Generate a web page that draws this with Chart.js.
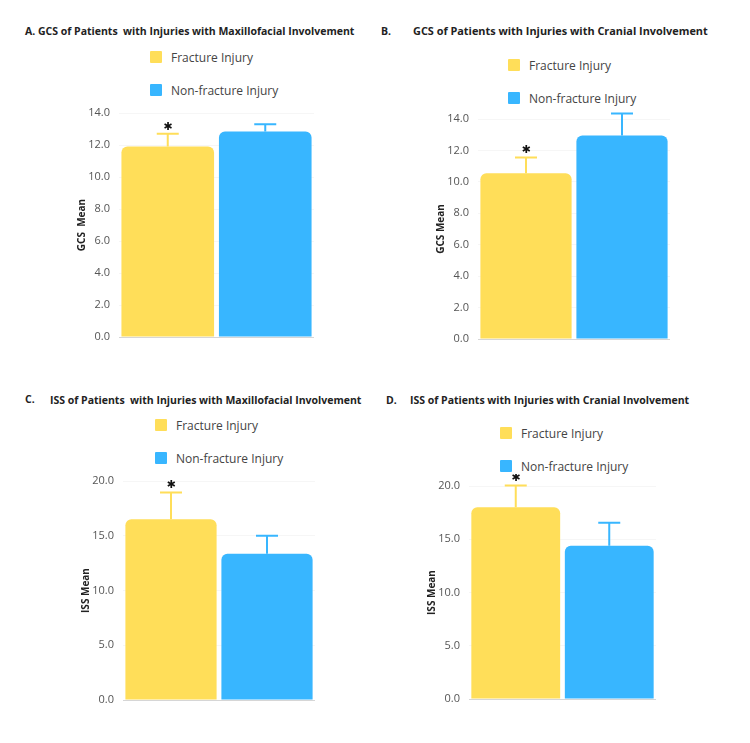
<!DOCTYPE html>
<html>
<head>
<meta charset="utf-8">
<script src="https://cdn.jsdelivr.net/npm/chart.js@4.4.1/dist/chart.umd.min.js"></script>
<style>
    body { margin: 0; background: #fff; }
    #page { position: relative; width: 750px; height: 743px; overflow: hidden; font-family: 'Open Sans', sans-serif; }
    .title { position: absolute; font-weight: 700; font-size: 10.5px; color: #222; white-space: pre; line-height: 14px; }
    .legend { position: absolute; font-size: 12px; color: #444; }
    .legend-item { display: flex; align-items: center; height: 14px; }
    .legend-box { width: 12px; height: 12px; border-radius: 1px; margin-right: 9px; }
    .panel { position: absolute; }
</style>
</head>
<body>
<div id="page">
    <div class="title" style="left:25px; top:24px;">A. GCS of Patients  with Injuries with Maxillofacial Involvement</div>
    <div class="title" style="left:381px; top:24px;">B.</div>
    <div class="title" style="left:413px; top:24px; font-size:10.9px;">GCS of Patients with Injuries with Cranial Involvement</div>
    <div class="title" style="left:25px; top:392px;">C.</div>
    <div class="title" style="left:50px; top:393px;">ISS of Patients  with Injuries with Maxillofacial Involvement</div>
    <div class="title" style="left:386px; top:393px;">D.</div>
    <div class="title" style="left:410px; top:393px;">ISS of Patients with Injuries with Cranial Involvement</div>

    <div id="legend-a" class="legend" style="left:150px; top:50px;"></div>
    <div id="legend-b" class="legend" style="left:508px; top:58px;"></div>
    <div id="legend-c" class="legend" style="left:155px; top:418px;"></div>
    <div id="legend-d" class="legend" style="left:500px; top:426px;"></div>

    <div class="panel" style="left:72px; top:101px; width:246px; height:244px;"><canvas id="chart-a"></canvas></div>
    <div class="panel" style="left:431px; top:107px; width:243px; height:240px;"><canvas id="chart-b"></canvas></div>
    <div class="panel" style="left:76px; top:469px; width:243px; height:239px;"><canvas id="chart-c"></canvas></div>
    <div class="panel" style="left:422px; top:474px; width:238px; height:233px;"><canvas id="chart-d"></canvas></div>
</div>
<script>
var groups = ['Fracture Injury', 'Non-fracture Injury'];
var colors = ['#FFDE59', '#38B6FF'];

// means and upper error (distance above the mean), fracture first
var gcsMaxMean = [11.9, 12.85];
var gcsMaxErr = [0.8, 0.45];
var gcsCranMean = [10.55, 12.95];
var gcsCranErr = [1.0, 1.4];
var issMaxMean = [16.5, 13.35];
var issMaxErr = [2.45, 1.65];
var issCranMean = [18.0, 14.4];
var issCranErr = [2.05, 2.15];

// significance marker per group
var significant = [true, false];

var gcsTicks = [0, 2, 4, 6, 8, 10, 12, 14];
var issTicks = [0, 5, 10, 15, 20];

var errorBarPlugin = {
    id: 'errorBars',
    afterDatasetsDraw: function (chart) {
        var ctx = chart.ctx;
        var yScale = chart.scales.y;
        chart.data.datasets.forEach(function (ds, i) {
            var bar = chart.getDatasetMeta(i).data[0];
            var top = yScale.getPixelForValue(ds.data[0] + ds.errors[0]);
            ctx.save();
            ctx.strokeStyle = ds.backgroundColor;
            ctx.lineWidth = 2;
            ctx.beginPath();
            ctx.moveTo(bar.x, bar.y);
            ctx.lineTo(bar.x, top);
            ctx.moveTo(bar.x - 11, top);
            ctx.lineTo(bar.x + 11, top);
            ctx.stroke();
            if (ds.marked) {
                ctx.fillStyle = '#111';
                ctx.font = 'bold 11px "DejaVu Sans"';
                ctx.textAlign = 'center';
                ctx.textBaseline = 'middle';
                ctx.fillText('\u2731', bar.x, top - 7);
            }
            ctx.restore();
        });
    }
};

function buildLegend(id, chart) {
    var $legend = document.getElementById(id);
    chart.data.datasets.forEach(function (ds, i) {
        var item = document.createElement('div');
        item.className = 'legend-item';
        item.style.marginBottom = i === 0 ? '19px' : '0';
        var box = document.createElement('span');
        box.className = 'legend-box';
        box.style.background = ds.backgroundColor;
        var text = document.createElement('span');
        text.textContent = ds.label;
        item.appendChild(box);
        item.appendChild(text);
        $legend.appendChild(item);
    });
}

function makePanel(canvasId, legendId, means, errors, ticks, axisTitle) {
    var datasets = groups.map(function (name, i) {
        return {
            label: name,
            data: [means[i]],
            errors: [errors[i]],
            marked: significant[i],
            backgroundColor: colors[i],
            borderRadius: 6,
            borderSkipped: 'start',
            categoryPercentage: 1,
            barPercentage: 0.95
        };
    });

    var chart = new Chart(document.getElementById(canvasId), {
        type: 'bar',
        data: { labels: [''], datasets: datasets },
        plugins: [errorBarPlugin],
        options: {
            responsive: true,
            maintainAspectRatio: false,
            animation: false,
            layout: { padding: { top: 12, right: 4, bottom: 8, left: 0 } },
            plugins: { legend: { display: false }, tooltip: { enabled: false } },
            scales: {
                x: { display: false },
                y: {
                    min: ticks[0],
                    max: ticks[ticks.length - 1],
                    afterBuildTicks: function (scale) {
                        scale.ticks = ticks.map(function (v) { return { value: v }; });
                    },
                    afterFit: function (scale) {
                        // fixed axis box so the plot areas line up with the reference
                        scale.width = 47;
                        scale.paddingTop = 0;
                        scale.paddingBottom = 0;
                    },
                    grid: {
                        color: function (c) { return c.tick && c.tick.value === 0 ? '#d6d6d6' : 'rgba(0,0,0,0.035)'; },
                        drawTicks: false
                    },
                    border: { display: false },
                    ticks: {
                        padding: 9,
                        color: '#555',
                        font: { family: 'Open Sans', size: 11 },
                        callback: function (v) { return Number(v).toFixed(1); }
                    },
                    title: {
                        display: true,
                        text: axisTitle,
                        color: '#222',
                        font: { family: 'Open Sans', size: 10, weight: 'bold' },
                        padding: { top: 4, bottom: 0 }
                    }
                }
            }
        }
    });

    buildLegend(legendId, chart);
    return chart;
}

makePanel('chart-a', 'legend-a', gcsMaxMean, gcsMaxErr, gcsTicks, 'GCS  Mean');
makePanel('chart-b', 'legend-b', gcsCranMean, gcsCranErr, gcsTicks, 'GCS Mean');
makePanel('chart-c', 'legend-c', issMaxMean, issMaxErr, issTicks, 'ISS Mean');
makePanel('chart-d', 'legend-d', issCranMean, issCranErr, issTicks, 'ISS Mean');
</script>
</body>
</html>
